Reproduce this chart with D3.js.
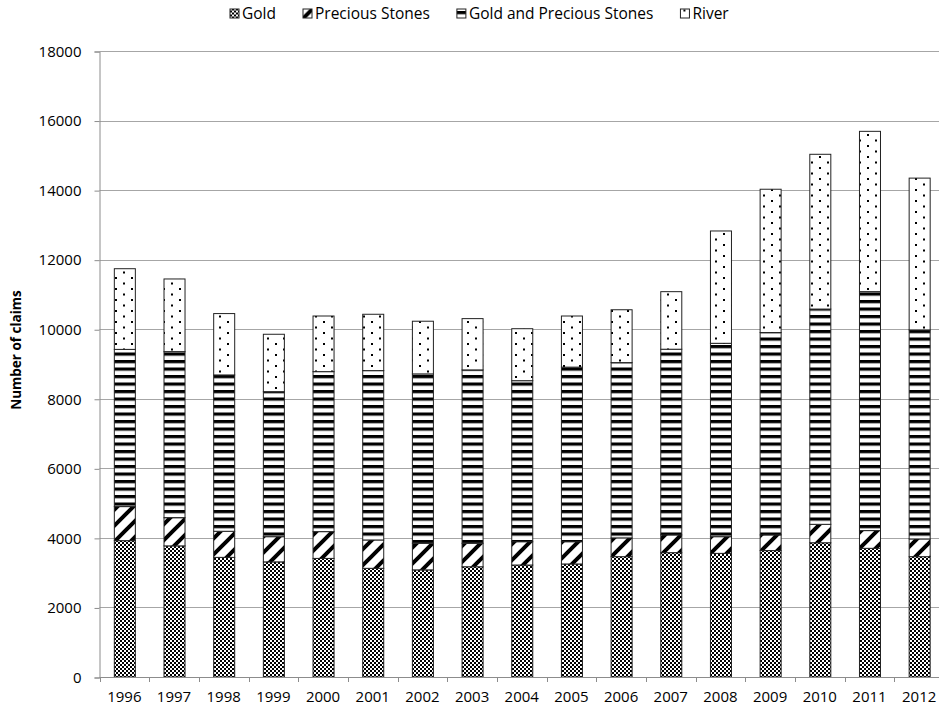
<!DOCTYPE html>
<html><head><meta charset="utf-8">
<script src="https://cdn.jsdelivr.net/npm/d3@7"></script>
<style>
html,body{margin:0;padding:0;background:#fff;}
svg{display:block;font-family:"Open Sans",sans-serif;}
</style></head>
<body><div id="chart"></div>
<script>
const years = ["1996","1997","1998","1999","2000","2001","2002","2003","2004","2005","2006","2007","2008","2009","2010","2011","2012"];
const seriesNames = ["Gold","Precious Stones","Gold and Precious Stones","River"];
const gold = [3920,3770,3440,3310,3410,3125,3080,3170,3220,3250,3460,3575,3555,3635,3860,3700,3460];
const precious = [980,810,750,725,770,815,765,675,670,640,540,510,480,450,530,510,510];
const goldPrecious = [4520,4775,4495,4170,4600,4870,4870,4985,4630,5020,5040,5340,5560,5820,6190,6870,6010];
const river = [2320,2090,1765,1650,1600,1620,1515,1475,1495,1470,1520,1655,3230,4120,4450,4610,4365];
const yTicks = [0,2000,4000,6000,8000,10000,12000,14000,16000,18000];
const yTitle = "Number of claims";

(function(){
const W = 939, H = 713;
const svg = d3.select("#chart").append("svg").attr("width", W).attr("height", H);
const defs = svg.append("defs");

const pChecker = defs.append("pattern").attr("id","pGold").attr("patternUnits","userSpaceOnUse").attr("width",4).attr("height",4);
pChecker.append("rect").attr("width",4).attr("height",4).attr("fill","#fff");
pChecker.append("rect").attr("x",0).attr("y",0).attr("width",2).attr("height",2).attr("fill","#000");
pChecker.append("rect").attr("x",2).attr("y",2).attr("width",2).attr("height",2).attr("fill","#000");

const pDiag = defs.append("pattern").attr("id","pPrec").attr("patternUnits","userSpaceOnUse").attr("width",16).attr("height",16);
pDiag.append("rect").attr("width",16).attr("height",16).attr("fill","#fff");
pDiag.append("path").attr("d","M-4,20L20,-4M-8,8L8,-8M8,24L24,8").attr("stroke","#000").attr("stroke-width",4);

const pH = defs.append("pattern").attr("id","pGP").attr("patternUnits","userSpaceOnUse").attr("width",8).attr("height",7.5);
pH.append("rect").attr("width",8).attr("height",7.5).attr("fill","#fff");
pH.append("rect").attr("x",0).attr("y",0).attr("width",8).attr("height",3.2).attr("fill","#000");

const pDot = defs.append("pattern").attr("id","pRiver").attr("patternUnits","userSpaceOnUse").attr("width",16).attr("height",11);
pDot.append("rect").attr("width",16).attr("height",11).attr("fill","#fff");
pDot.append("rect").attr("x",3).attr("y",2).attr("width",2).attr("height",2).attr("fill","#000");
pDot.append("rect").attr("x",11).attr("y",7.5).attr("width",2).attr("height",2).attr("fill","#000");

const fills = ["url(#pGold)","url(#pPrec)","url(#pGP)","url(#pRiver)"];

const rows = years.map((yr,i)=>({year:yr, "Gold":gold[i], "Precious Stones":precious[i], "Gold and Precious Stones":goldPrecious[i], "River":river[i]}));
const stacked = d3.stack().keys(seriesNames)(rows);

const mLeft = 99.5, mRight = 944, mTop = 51, mBottom = 677;
const x = d3.scaleBand().domain(years).range([mLeft,mRight]).paddingInner(0.577).paddingOuter(0.2885);
const y = d3.scaleLinear().domain([0,18000]).range([mBottom, mTop]);

svg.append("g").selectAll("line").data(yTicks.filter(d=>d>0)).join("line")
  .attr("x1",mLeft).attr("x2",W).attr("y1",d=>Math.round(y(d))+0.5).attr("y2",d=>Math.round(y(d))+0.5)
  .attr("stroke","#a6a6a6").attr("stroke-width",1);

const yAxis = d3.axisLeft(y).tickValues(yTicks).tickSize(5).tickPadding(13).tickFormat(d3.format("d"));
const gy = svg.append("g").attr("transform",`translate(${mLeft},0.5)`).call(yAxis);
gy.select(".domain").attr("stroke","#8c8c8c");
gy.selectAll(".tick line").attr("stroke","#8c8c8c");
gy.selectAll(".tick text").attr("font-size",15).attr("font-family","Open Sans").attr("fill","#000");

svg.append("g").selectAll("g").data(stacked).join("g")
  .attr("fill",(d,i)=>fills[i])
  .selectAll("rect").data(d=>d).join("rect")
  .attr("x",d=>x(d.data.year)+0.5)
  .attr("y",d=>y(d[1]))
  .attr("width",x.bandwidth())
  .attr("height",d=>y(d[0])-y(d[1]))
  .attr("stroke","#222").attr("stroke-width",1);

const step = x.step();
const gx = svg.append("g");
gx.append("line").attr("x1",mLeft).attr("x2",W).attr("y1",mBottom+0.5).attr("y2",mBottom+0.5).attr("stroke","#8c8c8c");
gx.selectAll("line.tk").data(d3.range(years.length+1)).join("line").attr("class","tk")
  .attr("x1",i=>Math.round(mLeft+i*step)+0.5).attr("x2",i=>Math.round(mLeft+i*step)+0.5)
  .attr("y1",mBottom).attr("y2",mBottom+5).attr("stroke","#8c8c8c");
gx.selectAll("text").data(years).join("text")
  .attr("x",d=>x(d)+x.bandwidth()/2).attr("y",mBottom+25)
  .attr("text-anchor","middle").attr("font-size",15).attr("fill","#000").text(d=>d);

svg.append("text").attr("transform",`translate(21,350) rotate(-90)`)
  .attr("text-anchor","middle").attr("font-size",13.5).attr("font-weight","bold").text(yTitle);

const lg = svg.append("g");
const items = lg.selectAll("g").data(seriesNames).join("g");
items.append("rect").attr("width",9).attr("height",9).attr("y",-9.5)
  .attr("fill",(d,i)=>fills[i]).attr("stroke","#222").attr("stroke-width",1);
items.append("text").attr("x",12).attr("y",0).attr("font-size",15.5).text(d=>d);
const widths = [];
items.each(function(){ widths.push(this.getBBox().width); });
const gap = 27;
let cx = 230;
items.attr("transform",(d,i)=>{ const t=`translate(${cx},18.5)`; cx += widths[i]+gap; return t; });
})();
</script>
</body></html>
